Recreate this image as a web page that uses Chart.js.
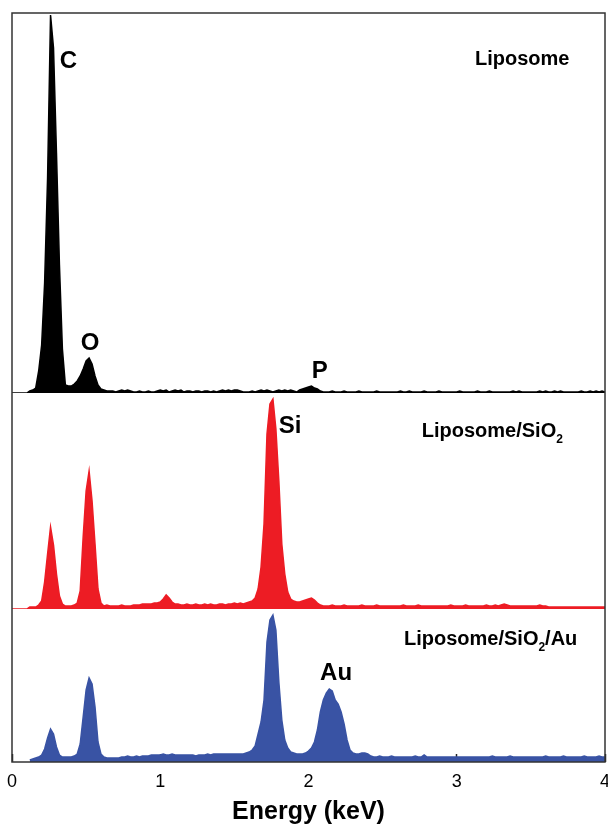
<!DOCTYPE html>
<html>
<head>
<meta charset="utf-8">
<title>EDS spectra</title>
<script src="https://cdn.jsdelivr.net/npm/chart.js@4.4.1/dist/chart.umd.min.js"></script>
<style>
  html, body { margin: 0; padding: 0; background: #fff; overflow: hidden; }
  canvas { display: block; }
</style>
</head>
<body>
<canvas id="eds" width="608" height="827"></canvas>
<script>
// energy bins (keV)
var energies = [
  0.00, 0.02, 0.04, 0.06, 0.08, 0.10, 0.12, 0.14, 0.16, 0.18,
  0.20, 0.22, 0.24, 0.26, 0.28, 0.30, 0.32, 0.34, 0.36, 0.38,
  0.40, 0.42, 0.44, 0.46, 0.48, 0.50, 0.52, 0.54, 0.56, 0.58,
  0.60, 0.62, 0.64, 0.66, 0.68, 0.70, 0.72, 0.74, 0.76, 0.78,
  0.80, 0.82, 0.84, 0.86, 0.88, 0.90, 0.92, 0.94, 0.96, 0.98,
  1.00, 1.02, 1.04, 1.06, 1.08, 1.10, 1.12, 1.14, 1.16, 1.18,
  1.20, 1.22, 1.24, 1.26, 1.28, 1.30, 1.32, 1.34, 1.36, 1.38,
  1.40, 1.42, 1.44, 1.46, 1.48, 1.50, 1.52, 1.54, 1.56, 1.58,
  1.60, 1.62, 1.64, 1.66, 1.68, 1.70, 1.72, 1.74, 1.76, 1.78,
  1.80, 1.82, 1.84, 1.86, 1.88, 1.90, 1.92, 1.94, 1.96, 1.98,
  2.00, 2.02, 2.04, 2.06, 2.08, 2.10, 2.12, 2.14, 2.16, 2.18,
  2.20, 2.22, 2.24, 2.26, 2.28, 2.30, 2.32, 2.34, 2.36, 2.38,
  2.40, 2.42, 2.44, 2.46, 2.48, 2.50, 2.52, 2.54, 2.56, 2.58,
  2.60, 2.62, 2.64, 2.66, 2.68, 2.70, 2.72, 2.74, 2.76, 2.78,
  2.80, 2.82, 2.84, 2.86, 2.88, 2.90, 2.92, 2.94, 2.96, 2.98,
  3.00, 3.02, 3.04, 3.06, 3.08, 3.10, 3.12, 3.14, 3.16, 3.18,
  3.20, 3.22, 3.24, 3.26, 3.28, 3.30, 3.32, 3.34, 3.36, 3.38,
  3.40, 3.42, 3.44, 3.46, 3.48, 3.50, 3.52, 3.54, 3.56, 3.58,
  3.60, 3.62, 3.64, 3.66, 3.68, 3.70, 3.72, 3.74, 3.76, 3.78,
  3.80, 3.82, 3.84, 3.86, 3.88, 3.90, 3.92, 3.94, 3.96, 3.98,
  4.00
];

// counts (a.u.) for each sample
var liposome = [
  0, 0, 0, 0, 0, 0, 2, 3, 5, 22,
  48, 110, 215, 378, 345, 240, 128, 44, 8, 7,
  7, 9, 12, 17, 24, 32, 35, 29, 17, 8,
  4, 3, 2, 2, 2, 1, 2, 3, 2, 3,
  2, 1, 1, 2, 1, 1, 2, 1, 1, 2,
  3, 2, 3, 1, 2, 3, 2, 3, 1, 2,
  2, 1, 2, 2, 1, 2, 2, 1, 2, 1,
  2, 3, 2, 3, 2, 3, 3, 2, 1, 1,
  1, 2, 1, 2, 3, 2, 3, 2, 1, 2,
  3, 2, 3, 2, 3, 2, 1, 3, 4, 5,
  6, 7, 5, 4, 2, 1, 1, 1, 2, 1,
  1, 1, 2, 1, 1, 1, 1, 2, 1, 1,
  1, 1, 1, 2, 1, 1, 1, 1, 1, 1,
  1, 2, 1, 1, 2, 1, 1, 1, 1, 2,
  1, 1, 1, 1, 2, 1, 1, 1, 1, 1,
  1, 2, 1, 1, 1, 1, 1, 2, 1, 1,
  1, 2, 1, 1, 1, 1, 1, 1, 1, 2,
  1, 2, 1, 1, 1, 1, 1, 1, 2, 1,
  2, 1, 1, 2, 1, 2, 1, 1, 1, 1,
  1, 1, 2, 1, 1, 2, 1, 2, 1, 2,
  1
];

var liposomeSiO2 = [
  0, 0, 0, 0, 0, 0, 2, 2, 2, 4,
  8, 27, 55, 82, 64, 35, 13, 5, 3, 3,
  3, 4, 6, 18, 72, 118, 138, 108, 65, 20,
  6, 3, 4, 3, 3, 3, 3, 4, 3, 3,
  3, 4, 4, 4, 5, 5, 5, 5, 6, 6,
  7, 10, 14, 11, 7, 5, 5, 4, 4, 5,
  4, 4, 5, 4, 4, 5, 4, 5, 4, 4,
  5, 5, 4, 5, 5, 6, 5, 6, 5, 6,
  7, 8, 11, 20, 42, 85, 175, 205, 210, 180,
  128, 65, 35, 17, 10, 8, 7, 7, 8, 9,
  10, 11, 9, 6, 4, 3, 3, 3, 4, 3,
  3, 3, 4, 3, 3, 3, 3, 3, 4, 3,
  3, 3, 3, 4, 3, 3, 3, 3, 3, 3,
  3, 3, 4, 3, 3, 3, 3, 4, 3, 3,
  3, 3, 3, 3, 3, 3, 3, 3, 4, 3,
  3, 3, 3, 4, 3, 3, 3, 3, 3, 3,
  4, 3, 3, 4, 3, 4, 5, 4, 3, 3,
  3, 3, 3, 3, 3, 3, 3, 3, 4, 3,
  3, 2, 2, 2, 2, 2, 2, 2, 2, 2,
  2, 2, 2, 2, 2, 2, 2, 2, 2, 2,
  2
];

var liposomeSiO2Au = [
  null, null, null, null, null, null, 2, 3, 4, 5,
  7, 13, 24, 33, 28, 15, 7, 5, 5, 5,
  5, 6, 8, 18, 45, 72, 84, 78, 55, 20,
  8, 5, 4, 4, 4, 4, 4, 5, 5, 6,
  5, 5, 6, 5, 6, 6, 6, 7, 7, 7,
  7, 8, 7, 7, 8, 7, 7, 7, 7, 7,
  7, 7, 6, 7, 7, 7, 8, 7, 8, 8,
  8, 8, 8, 8, 8, 8, 8, 8, 8, 9,
  10, 12, 16, 28, 40, 62, 120, 142, 147, 132,
  80, 42, 22, 14, 10, 9, 8, 8, 8, 9,
  11, 14, 20, 32, 50, 62, 69, 73, 71, 62,
  58, 50, 38, 22, 12, 9, 8, 8, 9, 9,
  8, 6, 5, 5, 6, 5, 5, 5, 6, 5,
  5, 5, 5, 5, 5, 5, 6, 5, 5, 7,
  5, 5, 5, 5, 5, 5, 5, 5, 5, 5,
  5, 5, 5, 5, 5, 5, 5, 5, 5, 5,
  5, 5, 6, 5, 5, 5, 5, 5, 6, 5,
  5, 5, 5, 5, 5, 5, 5, 5, 5, 5,
  6, 5, 5, 5, 5, 5, 6, 5, 5, 5,
  5, 5, 5, 6, 5, 5, 5, 5, 6, 5,
  5
];

var xTicks = [0, 1, 2, 3, 4];

var FONT = '"Liberation Sans", Arial, Helvetica, sans-serif';

function toPoints(values) {
    return energies.map(function(e, i) {
        return { x: e, y: values[i] };
    });
}

function spectrum(label, values, color, axis) {
    return {
        label: label,
        data: toPoints(values),
        yAxisID: axis,
        borderColor: color,
        backgroundColor: color,
        borderWidth: 1.5,
        pointRadius: 0,
        tension: 0,
        fill: 'origin'
    };
}

function hiddenAxis(weight, max) {
    return {
        type: 'linear',
        position: 'left',
        stack: 'eds',
        stackWeight: weight,
        min: 0,
        max: max,
        ticks: { display: false },
        grid: { display: false },
        border: { display: false },
        afterFit: function(s) { s.width = 0; }
    };
}

// peak names and sample names, anchored in data coordinates
var peakTags = [
    { text: 'C', axis: 'yBlack', e: 0.381, v: 325 },
    { text: 'O', axis: 'yBlack', e: 0.526, v: 43 },
    { text: 'P', axis: 'yBlack', e: 2.076, v: 15 },
    { text: 'Si', axis: 'yRed', e: 1.875, v: 176 },
    { text: 'Au', axis: 'yBlue', e: 2.186, v: 82 }
];

var sampleTags = [
    { parts: ['Liposome'], axis: 'yBlack', e: 3.123, v: 328 },
    { parts: ['Liposome/SiO', '2'], axis: 'yRed', e: 2.764, v: 172 },
    { parts: ['Liposome/SiO', '2', '/Au'], axis: 'yBlue', e: 2.644, v: 117 }
];

var framePlugin = {
    id: 'frame',
    afterDatasetsDraw: function(chart) {
        var a = chart.chartArea;
        var ctx = chart.ctx;
        ctx.save();
        ctx.strokeStyle = '#333';
        ctx.lineWidth = 1.5;
        ctx.strokeRect(a.left, a.top, a.right - a.left, a.bottom - a.top);
        ctx.restore();
    }
};

var tagPlugin = {
    id: 'tags',
    afterDatasetsDraw: function(chart) {
        var ctx = chart.ctx;
        var xs = chart.scales.x;
        ctx.save();
        ctx.fillStyle = '#000';
        ctx.textBaseline = 'alphabetic';

        ctx.font = 'bold 24px ' + FONT;
        ctx.textAlign = 'center';
        peakTags.forEach(function(t) {
            ctx.fillText(t.text, xs.getPixelForValue(t.e), chart.scales[t.axis].getPixelForValue(t.v));
        });

        ctx.textAlign = 'left';
        sampleTags.forEach(function(t) {
            var x = xs.getPixelForValue(t.e);
            var y = chart.scales[t.axis].getPixelForValue(t.v);
            t.parts.forEach(function(p, i) {
                if (i === 1) {
                    ctx.font = 'bold 12px ' + FONT;
                    ctx.fillText(p, x, y + 6);
                } else {
                    ctx.font = 'bold 20px ' + FONT;
                    ctx.fillText(p, x, y);
                }
                x += ctx.measureText(p).width;
            });
        });
        ctx.restore();
    }
};

new Chart(document.getElementById('eds'), {
    type: 'line',
    data: {
        datasets: [
            spectrum('Liposome', liposome, '#000000', 'yBlack'),
            spectrum('Liposome/SiO2', liposomeSiO2, '#ed1c24', 'yRed'),
            spectrum('Liposome/SiO2/Au', liposomeSiO2Au, '#3953a4', 'yBlue')
        ]
    },
    options: {
        responsive: false,
        animation: false,
        layout: { padding: { left: 12, right: 3, top: 13, bottom: 0 } },
        plugins: {
            legend: { display: false },
            tooltip: { enabled: false }
        },
        scales: {
            x: {
                type: 'linear',
                min: 0,
                max: 4,
                z: 1,
                afterBuildTicks: function(s) {
                    s.ticks = xTicks.map(function(v) { return { value: v }; });
                },
                afterFit: function(s) {
                    s.height = 65;
                    s.paddingLeft = 0;
                    s.paddingRight = 0;
                },
                ticks: {
                    padding: 17,
                    color: '#000',
                    maxRotation: 0,
                    font: { family: FONT, size: 18 }
                },
                grid: {
                    drawOnChartArea: false,
                    drawTicks: true,
                    tickLength: -8,
                    tickWidth: 1.5,
                    tickColor: '#222'
                },
                border: { display: false },
                title: {
                    display: true,
                    text: 'Energy (keV)',
                    color: '#000',
                    padding: { top: 0, bottom: 0 },
                    font: { family: FONT, size: 25, weight: 'bold', lineHeight: 1.2 }
                }
            },
            yBlue: hiddenAxis(153, 153),
            yRed: hiddenAxis(216, 216),
            yBlack: hiddenAxis(380, 380)
        }
    },
    plugins: [framePlugin, tagPlugin]
});
</script>
</body>
</html>
